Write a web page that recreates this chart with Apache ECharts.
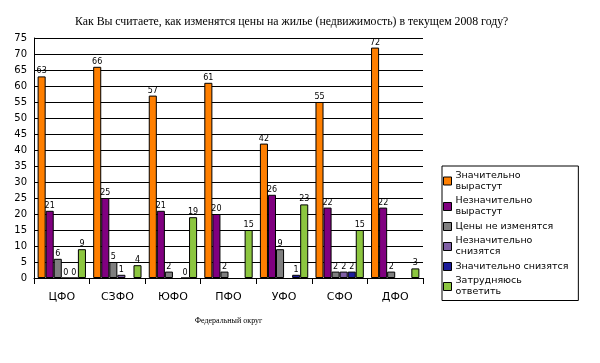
<!DOCTYPE html>
<html><head><meta charset="utf-8">
<script src="https://cdn.jsdelivr.net/npm/echarts@6/dist/echarts.min.js"></script>
<style>html,body{margin:0;padding:0;background:#fff}#c{width:600px;height:363px}</style>
</head><body><div id="c"></div>
<script>
const categories = ['ЦФО','СЗФО','ЮФО','ПФО','УФО','СФО','ДФО'];
const seriesNames = ['Значительно вырастут','Незначительно вырастут','Цены не изменятся','Незначительно снизятся','Значительно снизятся','Затрудняюсь ответить'];
const legendLabels = ['Значительно\nвырастут','Незначительно\nвырастут','Цены не изменятся','Незначительно\nснизятся','Значительно снизятся','Затрудняюсь\nответить'];
const sigUp   = [63, 66, 57, 61, 42, 55, 72];
const slightUp= [21, 25, 21, 20, 26, 22, 22];
const noChange= [6, 5, 2, 2, 9, 2, 2];
const slightDn= [0, 1, null, null, null, 2, null];
const sigDn   = [0, null, 0, null, 1, 2, null];
const unsure  = [9, 4, 19, 15, 23, 15, 3];
const yTicks = {min: 0, max: 75, interval: 5};
const colors = ['#ff7f00','#800080','#7f7f7f','#7f5fa5','#1c1c9a','#8cc63f'];
const values = [sigUp, slightUp, noChange, slightDn, sigDn, unsure];

const chart = echarts.init(document.getElementById('c'));
chart.setOption({
  animation: false,
  title: {text: 'Как Вы считаете, как изменятся цены на жилье (недвижимость) в текущем 2008 году?',
    left: 70, top: 11,
    textStyle: {fontFamily: 'Liberation Serif', fontSize: 11.8, fontWeight: 'normal', color: '#000'}},
  grid: {left: 34, top: 38, width: 389, height: 240},
  legend: {orient: 'vertical', left: 442, top: 166,
    borderColor: '#000', borderWidth: 1, padding: [4, 10, 3, 1], itemGap: 3.5,
    itemWidth: 8, itemHeight: 8, icon: 'rect',
    itemStyle: {borderColor: '#000', borderWidth: 1},
    formatter: n => legendLabels[seriesNames.indexOf(n)],
    textStyle: {fontFamily: 'DejaVu Sans', fontSize: 9.5, color: '#000', lineHeight: 11, padding: [0,0,0,-1]},
    data: seriesNames},
  xAxis: {type: 'category', data: categories,
    name: 'Федеральный округ', nameLocation: 'middle', nameGap: 39,
    nameTextStyle: {fontFamily: 'Liberation Serif', fontSize: 8, color: '#000'},
    axisLine: {lineStyle: {color: '#000', width: 1}},
    axisTick: {show: true, length: 6, lineStyle: {color: '#000'}},
    axisLabel: {fontFamily: 'DejaVu Sans', fontSize: 11, color: '#000', margin: 14}},
  yAxis: {type: 'value', min: yTicks.min, max: yTicks.max, interval: yTicks.interval,
    axisLine: {show: true, lineStyle: {color: '#000'}},
    axisTick: {show: false},
    splitLine: {lineStyle: {color: '#000', width: 1}},
    axisLabel: {fontFamily: 'DejaVu Sans', fontSize: 10, color: '#000', margin: 7}},
  series: seriesNames.map((n, i) => ({
    name: n, type: 'bar', data: values[i],
    barGap: '0%', barCategoryGap: '13%',
    itemStyle: {color: colors[i], borderColor: '#000', borderWidth: 1},
    label: {show: true, position: 'top', distance: 1, fontFamily: 'DejaVu Sans', fontSize: 8, color: '#000'}
  }))
});
</script></body></html>
